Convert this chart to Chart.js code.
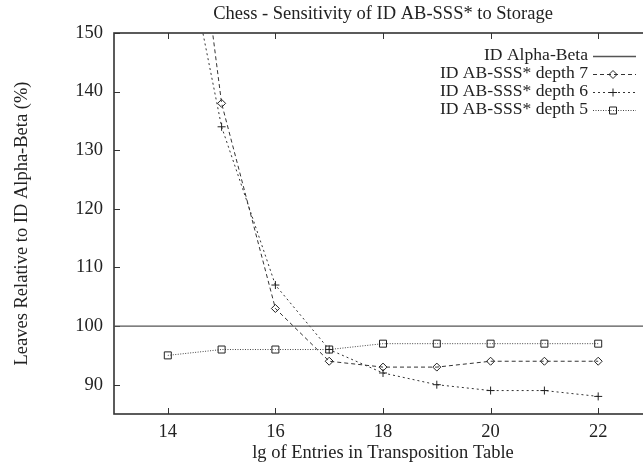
<!DOCTYPE html>
<html>
<head>
<meta charset="utf-8">
<script src="https://cdn.jsdelivr.net/npm/chart.js@4/dist/chart.umd.min.js"></script>
<style>
  html, body { margin: 0; padding: 0; background: #fff; overflow: hidden; }
  #wrap { width: 660px; height: 466px; }
</style>
</head>
<body>
<div id="wrap"><canvas id="chessChart" width="660" height="466"></canvas></div>
<script>
// values
const lgEntries = [14, 15, 16, 17, 18, 19, 20, 21, 22];
const depth7 = [210, 138, 103, 94, 93, 93, 94, 94, 94];
const depth6 = [180, 134, 107, 96, 92, 90, 89, 89, 88];
const depth5 = [95, 96, 96, 96, 97, 97, 97, 97, 97];
const alphaBetaX = [13, 23];
const alphaBeta = [100, 100];
const xTicks = [14, 16, 18, 20, 22];
const yTicks = [90, 100, 110, 120, 130, 140, 150];

const serif = 'Liberation Serif';
const ink = '#222';

function pts(xs, ys) {
    return xs.map((x, i) => ({ x: x, y: ys[i] }));
}

// gnuplot style marker drawing (also used for the legend), hollow
function drawMarker(ctx, kind, x, y) {
    ctx.save();
    ctx.setLineDash([]);
    ctx.lineWidth = 1;
    ctx.strokeStyle = '#222';
    ctx.beginPath();
    if (kind === 'diamond') {
        ctx.moveTo(x, y - 4); ctx.lineTo(x + 4, y); ctx.lineTo(x, y + 4); ctx.lineTo(x - 4, y); ctx.closePath();
    } else if (kind === 'cross') {
        ctx.moveTo(x - 4, y); ctx.lineTo(x + 4, y); ctx.moveTo(x, y - 4); ctx.lineTo(x, y + 4);
    } else if (kind === 'square') {
        ctx.rect(x - 3.5, y - 3.5, 7, 7);
    }
    ctx.stroke();
    ctx.restore();
}

const frameBox = {
    id: 'frameBox',
    beforeDatasetsDraw(chart) {
        const { ctx, chartArea: a, scales } = chart;
        ctx.save();
        ctx.strokeStyle = '#333';
        ctx.lineWidth = 1;
        ctx.beginPath();
        xTicks.forEach(v => {
            const px = Math.round(scales.x.getPixelForValue(v)) + 0.5;
            ctx.moveTo(px, a.bottom); ctx.lineTo(px, a.bottom - 6);
            ctx.moveTo(px, a.top); ctx.lineTo(px, a.top + 6);
        });
        yTicks.forEach(v => {
            const py = Math.round(scales.y.getPixelForValue(v)) + 0.5;
            ctx.moveTo(a.left, py); ctx.lineTo(a.left + 6, py);
            ctx.moveTo(a.right, py); ctx.lineTo(a.right - 6, py);
        });
        ctx.stroke();
        ctx.lineWidth = 1.6;
        ctx.strokeRect(a.left, a.top, a.right - a.left, a.bottom - a.top);
        ctx.restore();
    },
    afterDatasetsDraw(chart) {
        const { ctx, chartArea: a } = chart;
        ctx.save();
        ctx.beginPath();
        ctx.rect(a.left, a.top, a.right - a.left, a.bottom - a.top);
        ctx.clip();
        chart.data.datasets.forEach((ds, i) => {
            if (!ds.marker) return;
            const meta = chart.getDatasetMeta(i);
            meta.data.forEach(el => drawMarker(ctx, ds.marker, el.x, el.y));
        });
        ctx.restore();
    },
    afterDraw(chart) {
        const { ctx } = chart;
        ctx.save();
        ctx.font = '17.6px "' + serif + '"';
        ctx.fillStyle = ink;
        ctx.textAlign = 'right';
        ctx.textBaseline = 'middle';
        chart.data.datasets.forEach((ds, i) => {
            const y = 55.5 + i * 18;
            ctx.fillText(ds.label, 588, y);
            ctx.beginPath();
            ctx.strokeStyle = ds.borderColor;
            ctx.lineWidth = ds.borderWidth;
            ctx.setLineDash(ds.borderDash || []);
            ctx.moveTo(593, Math.round(y) + 0.5);
            ctx.lineTo(636, Math.round(y) + 0.5);
            ctx.stroke();
            if (ds.marker) drawMarker(ctx, ds.marker, 613, Math.round(y) + 0.5);
        });
        ctx.restore();
    }
};

const ctx = document.getElementById('chessChart').getContext('2d');
const chessChart = new Chart(ctx, {
    type: 'line',
    data: {
        datasets: [
            {
                label: 'ID Alpha-Beta',
                data: pts(alphaBetaX, alphaBeta),
                borderColor: '#555',
                borderWidth: 1.3,
                pointRadius: 0
            },
            {
                label: 'ID AB-SSS* depth 7',
                data: pts(lgEntries, depth7),
                borderColor: '#333',
                borderWidth: 1,
                borderDash: [4, 3],
                pointRadius: 0,
                marker: 'diamond'
            },
            {
                label: 'ID AB-SSS* depth 6',
                data: pts(lgEntries, depth6),
                borderColor: '#333',
                borderWidth: 1,
                borderDash: [2, 3],
                pointRadius: 0,
                marker: 'cross'
            },
            {
                label: 'ID AB-SSS* depth 5',
                data: pts(lgEntries, depth5),
                borderColor: '#444',
                borderWidth: 1,
                borderDash: [1, 1.5],
                pointRadius: 0,
                marker: 'square'
            }
        ]
    },
    options: {
        responsive: false,
        animation: false,
        layout: { padding: { left: 0, right: 8, top: 0, bottom: 0 } },
        scales: {
            x: {
                type: 'linear',
                min: 13,
                max: 23,
                afterBuildTicks: (scale) => { scale.ticks = xTicks.map(v => ({ value: v })); },
                afterFit: (scale) => { scale.height = 52; },
                grid: { display: false, drawTicks: false },
                border: { display: false },
                ticks: { color: ink, padding: 7, font: { family: serif, size: 18.5 } },
                title: {
                    display: true,
                    text: 'lg of Entries in Transposition Table',
                    color: ink,
                    font: { family: serif, size: 18.5 },
                    padding: { top: 0, bottom: 2 }
                }
            },
            y: {
                min: 85,
                max: 150,
                afterBuildTicks: (scale) => { scale.ticks = yTicks.map(v => ({ value: v })); },
                afterFit: (scale) => { scale.width = 114; },
                grid: { display: false, drawTicks: false },
                border: { display: false },
                ticks: { color: ink, padding: 11, font: { family: serif, size: 18.5 } },
                title: {
                    display: true,
                    text: 'Leaves Relative to ID Alpha-Beta (%)',
                    color: ink,
                    font: { family: serif, size: 18.5 },
                    padding: { top: 11, bottom: 0 }
                }
            }
        },
        plugins: {
            legend: { display: false },
            tooltip: { enabled: false },
            title: {
                display: true,
                fullSize: false,
                text: 'Chess - Sensitivity of ID AB-SSS* to Storage',
                color: ink,
                font: { family: serif, size: 18.5, weight: 'normal' },
                padding: { top: 3, bottom: 7.8 }
            }
        }
    },
    plugins: [frameBox]
});
</script>
</body>
</html>
